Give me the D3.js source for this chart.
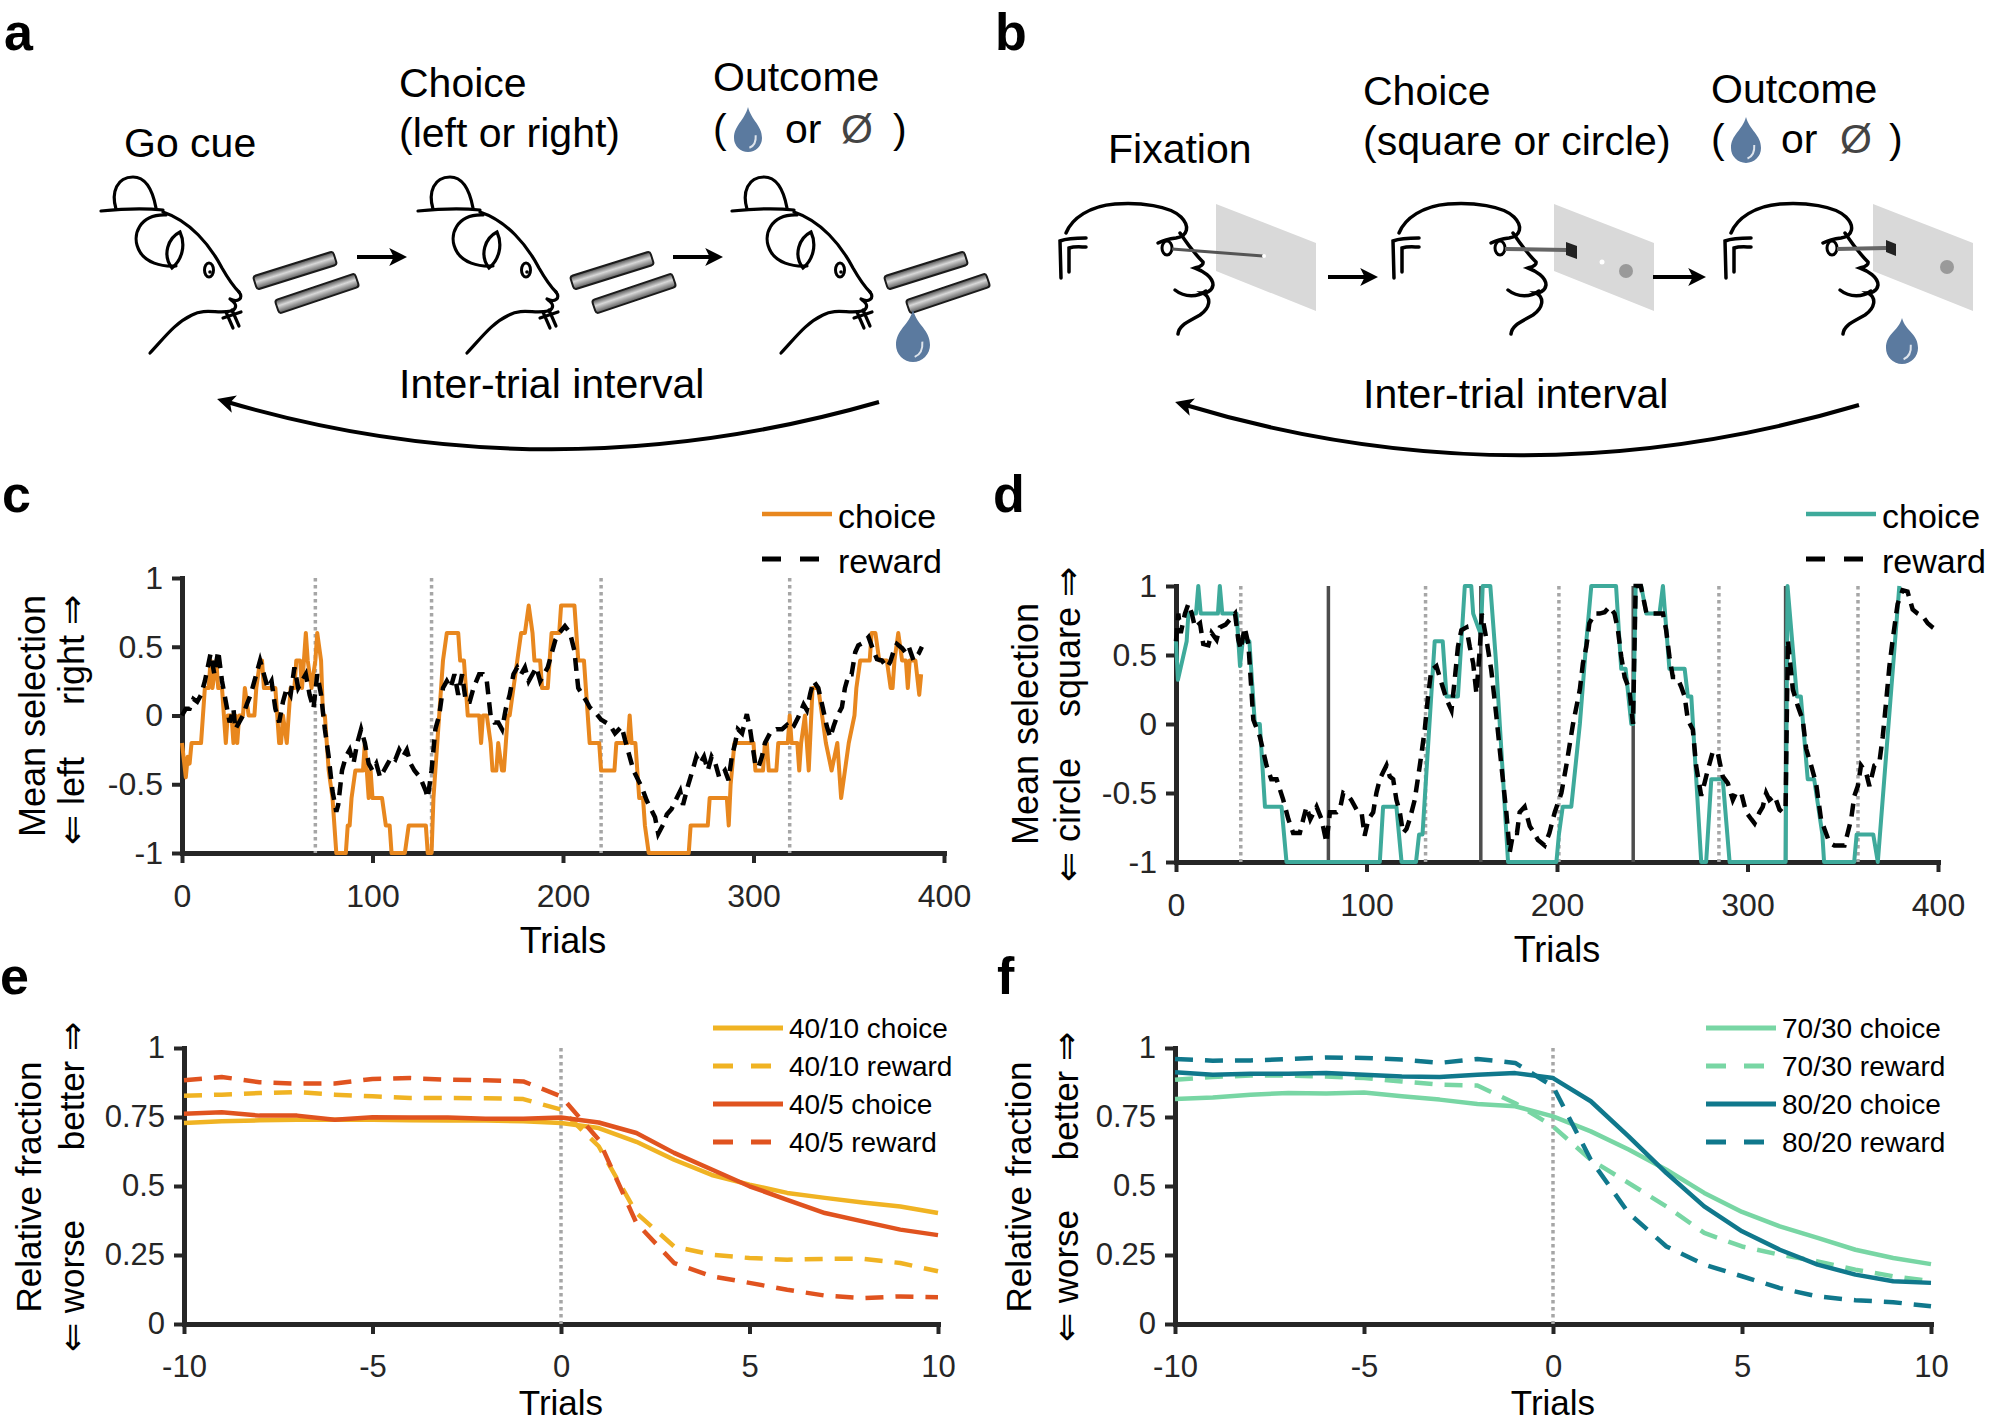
<!DOCTYPE html>
<html>
<head>
<meta charset="utf-8">
<script src="https://cdn.jsdelivr.net/npm/d3@7"></script>
<style>
body { margin: 0; background: #fff; }
text { font-family: "Liberation Sans", Arial, sans-serif; }
</style>
</head>
<body>
<script>
// ---- data ----
// panel c: running mean of choices / rewards (trial, value)
var cChoice = [[0,-0.2],[2,-0.45],[3,-0.3],[4,-0.35],[5,-0.2],[10,-0.2],[12,0.2],[14,0.2],[15,0.4],[16,0.2],[18,0.4],[19,0.2],[21,0.2],[22,0],[23,-0.2],[24,0],[26,0],[27,-0.2],[28,0],[29,-0.2],[30,0],[32,0],[33,0.2],[35,0],[38,0],[39,0.2],[41,0.4],[42,0.4],[43,0.2],[49,0.2],[50,0],[51,-0.2],[52,-0.2],[53,0],[55,-0.2],[56,0],[57,0.2],[59,0.2],[60,0.4],[62,0.4],[63,0.2],[64,0.4],[65,0.6],[66,0.4],[68,0.2],[70,0.4],[71,0.6],[73,0.4],[74,0],[75,0],[76,-0.2],[77,-0.4],[79,-0.6],[81,-1],[86,-1],[87,-0.8],[88,-0.8],[89,-0.6],[91,-0.4],[95,-0.4],[96,-0.2],[97,-0.4],[98,-0.6],[99,-0.4],[100,-0.6],[105,-0.6],[107,-0.8],[109,-0.8],[110,-1],[117,-1],[119,-0.8],[128,-0.8],[129,-1],[131,-1],[132,-0.6],[134,-0.2],[136,0.2],[137,0.4],[139,0.6],[145,0.6],[146,0.4],[148,0.4],[149,0.2],[150,0],[156,0],[157,-0.2],[158,0],[160,0],[162,-0.2],[163,-0.4],[165,-0.4],[166,-0.2],[168,-0.4],[169,-0.4],[171,0],[172,0],[174,0.2],[176,0.4],[178,0.6],[180,0.6],[182,0.8],[184,0.6],[185,0.4],[188,0.4],[189,0.2],[192,0.2],[193,0.4],[194,0.6],[198,0.6],[199,0.8],[206,0.8],[207,0.6],[208,0.4],[211,0.4],[212,0.2],[213,0],[214,-0.2],[219,-0.2],[220,-0.4],[227,-0.4],[228,-0.2],[234,-0.2],[235,0],[236,-0.2],[238,-0.2],[239,-0.4],[240,-0.6],[242,-0.6],[243,-0.8],[245,-1],[266,-1],[267,-0.8],[276,-0.8],[277,-0.6],[286,-0.6],[287,-0.8],[288,-0.5],[290,-0.2],[300,-0.2],[301,-0.4],[305,-0.4],[306,-0.2],[307,-0.2],[308,-0.4],[312,-0.4],[313,-0.2],[318,-0.2],[319,0],[320,-0.2],[323,-0.2],[324,-0.4],[325,-0.2],[327,0],[329,-0.4],[331,0.2],[334,0.2],[336,0],[338,-0.2],[341,-0.4],[344,-0.2],[346,-0.6],[348,-0.4],[350,-0.2],[353,0],[354,0.2],[356,0.4],[361,0.4],[362,0.6],[364,0.6],[366,0.4],[370,0.4],[372,0.2],[373,0.2],[374,0.4],[376,0.6],[378,0.4],[380,0.4],[381,0.2],[382,0.4],[385,0.4],[387,0.15],[388,0.3]];
var cReward = [[0,0],[2,0.05],[4,0.05],[6,0.12],[8,0.1],[10,0.15],[12,0.25],[15,0.45],[17,0.3],[19,0.47],[21,0.25],[23,0.1],[25,-0.05],[27,0.05],[28,-0.1],[30,-0.05],[32,0],[34,0.08],[36,0.15],[38,0.25],[40,0.35],[41,0.4],[43,0.3],[45,0.2],[47,0.25],[49,0.05],[51,-0.05],[53,0.1],[55,0.2],[57,0.15],[59,0.35],[61,0.2],[63,0.25],[65,0.3],[67,0.15],[69,0.05],[71,0.3],[73,0.15],[75,-0.1],[77,-0.3],[79,-0.55],[81,-0.7],[82,-0.65],[84,-0.4],[86,-0.3],[88,-0.25],[90,-0.35],[92,-0.2],[94,-0.1],[96,-0.2],[98,-0.35],[100,-0.4],[102,-0.35],[104,-0.45],[106,-0.4],[108,-0.35],[110,-0.3],[112,-0.32],[114,-0.25],[116,-0.3],[118,-0.25],[120,-0.35],[122,-0.4],[125,-0.45],[128,-0.55],[129,-0.6],[131,-0.4],[133,-0.1],[135,0],[137,0.2],[139,0.25],[141,0.2],[143,0.3],[145,0.15],[147,0.3],[149,0.1],[151,0.1],[153,0.2],[156,0.3],[158,0.3],[160,0.25],[162,0],[164,-0.05],[166,-0.05],[168,-0.1],[170,0.05],[172,0.15],[174,0.3],[176,0.35],[178,0.3],[180,0.35],[182,0.25],[184,0.3],[186,0.35],[188,0.25],[190,0.3],[192,0.35],[194,0.45],[196,0.55],[198,0.6],[201,0.65],[203.7,0.6],[206,0.47],[207,0.33],[208,0.2],[212.5,0.1],[214,0.06],[217.7,0.01],[220,-0.03],[224.7,-0.07],[227.3,-0.13],[230.8,-0.08],[232.6,-0.18],[237,-0.4],[241.3,-0.52],[244,-0.62],[248.3,-0.74],[250,-0.86],[252.7,-0.79],[254.5,-0.72],[257,-0.68],[259.7,-0.6],[261.5,-0.55],[263,-0.65],[265.8,-0.5],[268,-0.4],[270,-0.3],[272,-0.35],[274,-0.3],[276,-0.4],[278,-0.3],[280,-0.35],[282,-0.45],[285,-0.4],[286.9,-0.47],[288.6,-0.3],[290.4,-0.2],[291.8,-0.1],[294,-0.13],[296.5,0.01],[298.2,-0.1],[300.9,-0.35],[302.5,-0.38],[304.4,-0.3],[306,-0.2],[309,-0.12],[312,-0.1],[315,-0.1],[317.5,-0.07],[319,-0.1],[321,-0.08],[323.6,-0.01],[326.3,0.08],[328,0.04],[329.8,0.16],[331.5,0.25],[334,0.2],[336,0.08],[338.5,-0.08],[340.3,-0.16],[342,-0.08],[343.8,-0.01],[346.4,0.06],[348,0.2],[350,0.3],[351.5,0.3],[353.4,0.46],[355,0.51],[357.8,0.53],[360.4,0.57],[363,0.47],[364.8,0.41],[367.4,0.4],[370,0.35],[371.8,0.39],[373.6,0.47],[375.3,0.52],[378,0.49],[379.7,0.46],[381.5,0.5],[384,0.4],[386.7,0.45],[388.4,0.5]];
var cSwitch = [70, 131, 220, 319];

// panel d
var dChoice = [[0,0.6],[1,0.32],[5.6,0.6],[6.5,0.8],[10.5,0.8],[11.7,1],[13,0.8],[22,0.8],[23,1],[24.3,0.8],[31.8,0.8],[33.6,0.42],[35,0.6],[38.5,0.6],[41.4,0],[44,0],[46.7,-0.6],[55.4,-0.6],[58,-1],[107,-1],[108.7,-0.6],[115.7,-0.6],[118.4,-1],[126,-1],[127.6,-0.8],[129.4,-0.8],[135.8,0.6],[140,0.6],[142,0.2],[148,0.2],[151.6,1],[155,1],[156,0.8],[158.6,0.7],[160,0.65],[161,1],[165,1],[168,0.45],[171.7,-0.4],[174.3,-1],[199.7,-1],[201,-0.8],[203,-0.6],[207.5,-0.6],[212,0],[215.4,0.6],[218,1],[231,1],[233.7,0.4],[236,0.4],[239,0],[240,0],[241.3,1],[244.2,1],[246.9,0.8],[253.8,0.8],[255.6,1],[259,0.4],[267,0.4],[268.7,0.2],[270.5,0.2],[275.7,-1],[278.3,-1],[281,-0.4],[287,-0.4],[290.6,-1],[320,-1],[321,1],[325.9,0.2],[328,0.2],[331.6,-0.4],[335,-0.4],[339.3,-0.8],[340.2,-1],[356,-1],[357.3,-0.8],[366,-0.8],[368.4,-1],[379.7,1]];
var dReward = [[0,0.6],[1.2,0.8],[2.5,0.66],[4.7,0.8],[6.5,0.87],[8.3,0.8],[10,0.7],[12.6,0.73],[14.3,0.58],[17,0.57],[18.7,0.66],[21.3,0.61],[23,0.7],[26,0.72],[31,0.8],[32.7,0.61],[34,0.54],[36,0.7],[38,0.58],[40.6,0.03],[44,-0.09],[47.5,-0.3],[50,-0.4],[52.8,-0.4],[56.3,-0.55],[59,-0.69],[61.5,-0.79],[65,-0.79],[66.8,-0.69],[68.5,-0.6],[70.5,-0.69],[73.8,-0.6],[76.4,-0.69],[79,-0.86],[80.8,-0.64],[84.3,-0.64],[86,-0.62],[87.8,-0.5],[90.4,-0.52],[92,-0.55],[94.8,-0.62],[97.4,-0.64],[99,-0.81],[101,-0.69],[103.5,-0.64],[105.2,-0.5],[107,-0.4],[108.7,-0.35],[110.5,-0.3],[112.2,-0.38],[114,-0.4],[115.7,-0.55],[117.5,-0.64],[119.2,-0.79],[121,-0.76],[122.7,-0.69],[125.3,-0.55],[128,-0.3],[130.6,-0.04],[132.3,0.2],[134,0.39],[136.7,0.42],[139.3,0.3],[142,0.18],[144.6,0.1],[146.3,0.32],[148,0.56],[149.8,0.68],[152.4,0.7],[154.2,0.56],[156,0.44],[157.7,0.22],[159.5,0.55],[160.5,0.8],[163,0.61],[165.5,0.39],[168,0.08],[170.8,-0.3],[173.4,-0.64],[175.2,-0.93],[177,-0.79],[179,-0.79],[180.4,-0.64],[183,-0.6],[185.7,-0.74],[188,-0.79],[190,-0.84],[191.8,-0.86],[193.5,-0.88],[196,-0.79],[198.8,-0.64],[202.3,-0.5],[204.9,-0.3],[208.4,0],[212,0.25],[213.6,0.44],[215.4,0.56],[217,0.73],[219.8,0.8],[222.4,0.8],[225,0.81],[227.6,0.85],[230.2,0.8],[232,0.68],[233.7,0.49],[235.5,0.34],[238,0.25],[239.9,0],[241.3,1],[244,1],[247,0.8],[255.6,0.8],[257.3,0.68],[259,0.49],[260.8,0.34],[263,0.34],[265.2,0.27],[267,0.2],[268.7,0.03],[271.3,-0.04],[273,-0.3],[275.7,-0.52],[277.4,-0.43],[279.2,-0.33],[281.8,-0.2],[284.4,-0.21],[287,-0.38],[289.7,-0.43],[292.3,-0.55],[294,-0.5],[296.7,-0.5],[299.3,-0.64],[302,-0.69],[303.7,-0.72],[306.3,-0.64],[308,-0.6],[309.8,-0.5],[311.5,-0.55],[314.2,-0.52],[316.8,-0.62],[318.5,-0.64],[320,-0.6],[321.2,0.61],[323.8,0.25],[326.4,0.13],[329,0.03],[330.8,-0.18],[333.4,-0.3],[336,-0.43],[338.6,-0.69],[340.4,-0.76],[343,-0.86],[345.6,-0.88],[350.9,-0.88],[352.6,-0.79],[354.4,-0.69],[356.1,-0.52],[357.9,-0.45],[359.6,-0.3],[362.2,-0.35],[364,-0.45],[366.6,-0.3],[369.2,-0.28],[371,-0.09],[372.7,0.15],[374.5,0.42],[376.2,0.61],[378.8,0.87],[381.4,0.97],[384,0.96],[386.7,0.83],[389.3,0.8],[392,0.78],[394.6,0.73],[397.2,0.7],[399.3,0.68]];
var dSwitch = [34, 131, 201, 285, 358];
var dBlock = [80, 160, 240, 320];

// panels e, f: trials relative to switch
var lagTrials = [-10,-9,-8,-7,-6,-5,-4,-3,-2,-1,0,1,2,3,4,5,6,7,8,9,10];
var e4010Choice = [0.728,0.735,0.738,0.74,0.74,0.74,0.738,0.737,0.737,0.735,0.728,0.71,0.66,0.595,0.54,0.505,0.475,0.457,0.44,0.426,0.402];
var e4010Reward = [0.827,0.831,0.837,0.84,0.831,0.825,0.819,0.819,0.818,0.815,0.777,0.644,0.402,0.281,0.251,0.239,0.233,0.236,0.236,0.221,0.191];
var e405Choice  = [0.762,0.767,0.755,0.755,0.74,0.749,0.748,0.748,0.744,0.744,0.748,0.73,0.692,0.62,0.56,0.499,0.45,0.402,0.372,0.342,0.322];
var e405Reward  = [0.883,0.895,0.876,0.871,0.871,0.888,0.891,0.885,0.883,0.879,0.825,0.668,0.366,0.221,0.173,0.149,0.124,0.103,0.094,0.1,0.097];
var f7030Choice = [0.815,0.821,0.831,0.837,0.835,0.839,0.825,0.813,0.797,0.789,0.752,0.698,0.632,0.559,0.475,0.406,0.354,0.312,0.269,0.239,0.217];
var f7030Reward = [0.885,0.895,0.9,0.9,0.897,0.891,0.879,0.867,0.864,0.8,0.716,0.595,0.511,0.426,0.33,0.281,0.251,0.227,0.197,0.173,0.155];
var f8020Choice = [0.912,0.903,0.907,0.907,0.909,0.903,0.897,0.895,0.903,0.909,0.891,0.807,0.68,0.547,0.426,0.336,0.269,0.215,0.179,0.155,0.149];
var f8020Reward = [0.96,0.954,0.955,0.96,0.966,0.964,0.958,0.946,0.96,0.946,0.861,0.595,0.402,0.281,0.215,0.173,0.13,0.1,0.086,0.079,0.064];

var trialTicks = [0, 100, 200, 300, 400];
var selTicks = [-1, -0.5, 0, 0.5, 1];
var lagTicks = [-10, -5, 0, 5, 10];
var fracTicks = [0, 0.25, 0.5, 0.75, 1];

var ink = "#262626";
var svg = d3.select("body").append("svg").attr("width", 1991).attr("height", 1426);

var defs = svg.append("defs");
var grad = defs.append("linearGradient").attr("id", "tube").attr("x1", 0).attr("y1", 0).attr("x2", 0).attr("y2", 1);
grad.append("stop").attr("offset", "0%").attr("stop-color", "#4a4a4a");
grad.append("stop").attr("offset", "45%").attr("stop-color", "#d8d8d8");
grad.append("stop").attr("offset", "100%").attr("stop-color", "#5a5a5a");
defs.append("marker").attr("id", "head").attr("viewBox", "0 0 10 10").attr("refX", 6).attr("refY", 5)
  .attr("markerWidth", 4.5).attr("markerHeight", 4.5).attr("orient", "auto")
  .append("path").attr("d", "M0,0 L10,5 L0,10 L2.5,5 Z").attr("fill", "#000");

function label(x, y, str, size, opts) {
  opts = opts || {}
  var t = svg.append("text").attr("x", x).attr("y", y).text(str)
    .attr("font-size", size).attr("fill", opts.fill || "#000")
  if (opts.bold) t.attr("font-weight", "bold")
  if (opts.anchor) t.attr("text-anchor", opts.anchor)
  if (opts.rotate) t.attr("transform", "rotate(-90," + x + "," + y + ")")
  return t
}

// panel letters
label(4, 50, "a", 52, {bold: true});
label(995, 50, "b", 52, {bold: true});
label(2, 512, "c", 52, {bold: true});
label(993, 512, "d", 52, {bold: true});
label(0, 994, "e", 52, {bold: true});
label(997, 994, "f", 52, {bold: true});

// ---- panel a: mouse task ----
function drop(cx, top, w, h) {
  var r = w / 2, cy = top + h - r
  svg.append("path")
    .attr("d", "M" + cx + "," + top + " C" + (cx + r * 0.25) + "," + (top + h * 0.3) + " " + (cx + r) + "," + (cy - r * 0.9) + " " + (cx + r) + "," + cy +
      " A" + r + "," + r + " 0 1 1 " + (cx - r) + "," + cy +
      " C" + (cx - r) + "," + (cy - r * 0.9) + " " + (cx - r * 0.25) + "," + (top + h * 0.3) + " " + cx + "," + top + " Z")
    .attr("fill", "#5b7a9f")
  svg.append("path")
    .attr("d", "M" + (cx + r * 0.55) + "," + (cy - r * 0.2) + " Q" + (cx + r * 0.6) + "," + (cy + r * 0.5) + " " + (cx + r * 0.1) + "," + (cy + r * 0.7))
    .attr("fill", "none").attr("stroke", "#fff").attr("stroke-width", 2).attr("opacity", 0.8)
}

function tube(x1, y1, x2, y2) {
  var len = Math.hypot(x2 - x1, y2 - y1), ang = Math.atan2(y2 - y1, x2 - x1) * 180 / Math.PI
  svg.append("rect").attr("x", 0).attr("y", -7).attr("width", len).attr("height", 14).attr("rx", 3)
    .attr("fill", "url(#tube)").attr("stroke", "#1a1a1a").attr("stroke-width", 2)
    .attr("transform", "translate(" + x1 + "," + y1 + ") rotate(" + ang + ")")
}

var mousePaths = [
  "M101,211 C120,209 145,208 163,210",
  "M116,209 C111,192 117,177 133,177 C147,177 153,192 156,208",
  "M163,212 C190,221 210,245 222,268 C230,282 235,288 239,292",
  "M239,292 C244,298 238,303 230,299 M231,300 C237,304 237,308 232,311",
  "M226,312 L233,328 M232,310 L239,326 M223,318 L241,312",
  "M231,311 C218,314 205,308 192,315 C175,323 165,337 150,353",
  "M166,215 C140,214 130,235 140,252 C146,262 160,267 176,266",
  "M180,232 C168,238 162,255 172,268 C182,260 186,245 180,232 Z"
];
var mouseOffsets = [0, 317, 631];
mouseOffsets.forEach(function(dx) {
  var g = svg.append("g").attr("transform", "translate(" + dx + ",0)")
  mousePaths.forEach(function(p) {
    g.append("path").attr("d", p).attr("fill", "none").attr("stroke", "#000").attr("stroke-width", 3.2).attr("stroke-linecap", "round")
  })
  g.append("ellipse").attr("cx", 209).attr("cy", 270).attr("rx", 4.5).attr("ry", 7).attr("fill", "none").attr("stroke", "#000").attr("stroke-width", 3)
  g.append("circle").attr("cx", 210).attr("cy", 272).attr("r", 1.8).attr("fill", "#000")
  tube(255 + dx, 283, 335 + dx, 258)
  tube(277 + dx, 307, 357 + dx, 280)
})
drop(913, 310, 34, 52);

function straightArrow(x1, x2, y) {
  svg.append("line").attr("x1", x1).attr("x2", x2).attr("y1", y).attr("y2", y)
    .attr("stroke", "#000").attr("stroke-width", 4).attr("marker-end", "url(#head)")
}
straightArrow(357, 400, 257);
straightArrow(673, 716, 257);

label(124, 157, "Go cue", 41);
label(399, 97, "Choice", 41);
label(399, 147, "(left or right)", 41);
label(713, 91, "Outcome", 41);
label(713, 143, "(", 41);
drop(748, 107, 28, 45);
label(785, 143, "or", 41);
label(841, 143, "Ø", 41, {fill: "#444"});
label(893, 143, ")", 41);
label(399, 398, "Inter-trial interval", 41);
svg.append("path").attr("d", "M879,402 Q548,497 224,401").attr("fill", "none")
  .attr("stroke", "#000").attr("stroke-width", 4).attr("marker-end", "url(#head)");

// ---- panel b: monkey task ----
var screenPts = [[1216,204],[1316,243],[1316,311],[1216,271]];
var screenOffsets = [0, 338, 657];
screenOffsets.forEach(function(dx) {
  svg.append("polygon").attr("points", screenPts.map(function(p) { return (p[0] + dx) + "," + p[1] }).join(" "))
    .attr("fill", "#d9d9d9")
})
var monkeyPaths = [
  "M1066,233 C1072,218 1090,206 1115,204 C1140,202 1170,206 1181,217 C1190,226 1188,236 1176,238 C1168,239 1162,241 1158,243",
  "M1180,233 C1186,242 1193,252 1203,262 C1204,266 1198,267 1195,268 C1203,271 1213,277 1213,285 C1212,292 1205,293 1203,293 C1212,298 1210,308 1200,315 C1188,322 1179,325 1178,334",
  "M1175,290 C1185,298 1198,297 1206,291",
  "M1061,278 L1060,241 C1068,238 1078,238 1086,238",
  "M1069,272 L1069,248 C1075,246 1081,247 1086,247"
];
var monkeyOffsets = [0, 333, 665];
monkeyOffsets.forEach(function(dx) {
  var g = svg.append("g").attr("transform", "translate(" + dx + ",0)")
  monkeyPaths.forEach(function(p) {
    g.append("path").attr("d", p).attr("fill", "none").attr("stroke", "#000").attr("stroke-width", 3.5).attr("stroke-linecap", "round")
  })
  g.append("ellipse").attr("cx", 1167).attr("cy", 248).attr("rx", 5).attr("ry", 7).attr("fill", "none").attr("stroke", "#000").attr("stroke-width", 3)
})
// gaze lines, targets
svg.append("line").attr("x1", 1172).attr("y1", 249).attr("x2", 1263).attr("y2", 256).attr("stroke", "#555").attr("stroke-width", 3);
svg.append("circle").attr("cx", 1264).attr("cy", 256).attr("r", 2).attr("fill", "#fff");
svg.append("line").attr("x1", 1505).attr("y1", 249).attr("x2", 1567).attr("y2", 250).attr("stroke", "#666").attr("stroke-width", 4);
svg.append("polygon").attr("points", "1566,242 1577,246 1577,259 1566,255").attr("fill", "#222");
svg.append("circle").attr("cx", 1602).attr("cy", 262).attr("r", 2.5).attr("fill", "#fff");
svg.append("circle").attr("cx", 1626).attr("cy", 271).attr("r", 7).attr("fill", "#9a9a9a");
svg.append("line").attr("x1", 1837).attr("y1", 249).attr("x2", 1886).attr("y2", 248).attr("stroke", "#666").attr("stroke-width", 4);
svg.append("polygon").attr("points", "1886,240 1896,244 1896,256 1886,252").attr("fill", "#222");
svg.append("circle").attr("cx", 1947).attr("cy", 267).attr("r", 7).attr("fill", "#9a9a9a");
drop(1902, 318, 32, 46);
straightArrow(1328, 1371, 277);
straightArrow(1653, 1699, 277);

label(1108, 163, "Fixation", 41);
label(1363, 105, "Choice", 41);
label(1363, 155, "(square or circle)", 41);
label(1711, 103, "Outcome", 41);
label(1711, 153, "(", 41);
drop(1746, 117, 30, 46);
label(1781, 153, "or", 41);
label(1840, 153, "Ø", 41, {fill: "#444"});
label(1889, 153, ")", 41);
label(1363, 408, "Inter-trial interval", 41);
svg.append("path").attr("d", "M1859,405 Q1518,506 1182,404").attr("fill", "none")
  .attr("stroke", "#000").attr("stroke-width", 4).attr("marker-end", "url(#head)");

// ---- axes helper ----
function styleAxis(g, size) {
  g.attr("font-family", '"Liberation Sans", Arial, sans-serif').attr("font-size", size)
  g.select(".domain").attr("stroke", ink).attr("stroke-width", 5).attr("stroke-linecap", "square")
  g.selectAll(".tick line").attr("stroke", ink).attr("stroke-width", 4)
  g.selectAll(".tick text").attr("fill", ink)
}
function drawAxes(x, y, xt, yt, size) {
  var gy = svg.append("g").attr("transform", "translate(" + x.range()[0] + ",0)")
    .call(d3.axisLeft(y).tickValues(yt).tickSize(10).tickSizeOuter(0).tickPadding(9).tickFormat(String))
  styleAxis(gy, size)
  var gx = svg.append("g").attr("transform", "translate(0," + y.range()[0] + ")")
    .call(d3.axisBottom(x).tickValues(xt).tickSize(10).tickSizeOuter(0).tickPadding(21).tickFormat(String))
  styleAxis(gx, size)
}

// ---- panels c, d ----
function selectionPanel(o) {
  var x = d3.scaleLinear().domain([0, 400]).range(o.xr)
  var y = d3.scaleLinear().domain([-1, 1]).range(o.yr)
  drawAxes(x, y, trialTicks, selTicks, 32)
  o.dotted.forEach(function(t) {
    svg.append("line").attr("x1", x(t)).attr("x2", x(t)).attr("y1", y(1)).attr("y2", y(-1))
      .attr("stroke", "#a6a6a6").attr("stroke-width", 3.5).attr("stroke-dasharray", "3.5,3.5")
  })
  ;(o.solid || []).forEach(function(t) {
    svg.append("line").attr("x1", x(t)).attr("x2", x(t)).attr("y1", y(1)).attr("y2", y(-1))
      .attr("stroke", "#4d4d4d").attr("stroke-width", 3.5)
  })
  var line = d3.line().x(function(d) { return x(d[0]) }).y(function(d) { return y(d[1]) })
  svg.append("path").datum(o.choice).attr("d", line).attr("fill", "none")
    .attr("stroke", o.color).attr("stroke-width", 4).attr("stroke-linejoin", "round")
  svg.append("path").datum(o.reward).attr("d", line).attr("fill", "none")
    .attr("stroke", "#000").attr("stroke-width", 4.5).attr("stroke-dasharray", "13,8")
  // legend
  var lx = o.legend[0], ly = o.legend[1]
  svg.append("line").attr("x1", lx).attr("x2", lx + 70).attr("y1", ly).attr("y2", ly).attr("stroke", o.color).attr("stroke-width", 4.5)
  svg.append("line").attr("x1", lx).attr("x2", lx + 58).attr("y1", ly + 45).attr("y2", ly + 45).attr("stroke", "#000").attr("stroke-width", 5).attr("stroke-dasharray", "19,19")
  label(lx + 76, ly + 14, "choice", 34)
  label(lx + 76, ly + 59, "reward", 34)
  label((o.xr[0] + o.xr[1]) / 2, o.yr[0] + 100, "Trials", 36, {anchor: "middle"})
  // y label
  label(o.lab[0], o.lab[1], "Mean selection", 36, {anchor: "middle", rotate: true})
  label(o.lab[2], o.lab[3], "⇐ " + o.words[0], 36, {anchor: "start", rotate: true})
  label(o.lab[2], o.lab[4], o.words[1] + " ⇒", 36, {anchor: "end", rotate: true})
}

selectionPanel({xr: [182, 944], yr: [853, 578], choice: cChoice, reward: cReward, color: "#e8871e",
  dotted: cSwitch, legend: [762, 514], lab: [45, 716, 84, 845, 595], words: ["left", "right"]});
selectionPanel({xr: [1176, 1938], yr: [862, 586], choice: dChoice, reward: dReward, color: "#3eaa9b",
  dotted: dSwitch, solid: dBlock, legend: [1806, 514], lab: [1038, 724, 1080, 882, 567], words: ["circle", "square"]});

// ---- panels e, f ----
function fractionPanel(o) {
  var x = d3.scaleLinear().domain([-10, 10]).range(o.xr)
  var y = d3.scaleLinear().domain([0, 1]).range(o.yr)
  drawAxes(x, y, lagTicks, fracTicks, 31)
  svg.append("line").attr("x1", x(0)).attr("x2", x(0)).attr("y1", y(1)).attr("y2", y(0))
    .attr("stroke", "#a6a6a6").attr("stroke-width", 3.5).attr("stroke-dasharray", "3.5,3.5")
  var line = d3.line().x(function(d, i) { return x(lagTrials[i]) }).y(function(d) { return y(d) })
  o.series.forEach(function(s, i) {
    var p = svg.append("path").datum(s.values).attr("d", line).attr("fill", "none")
      .attr("stroke", s.color).attr("stroke-width", 4.5).attr("stroke-linejoin", "round")
    if (s.dashed) p.attr("stroke-dasharray", "18,12")
    var ly = 1028 + i * 38
    var l = svg.append("line").attr("x1", o.legendX).attr("x2", o.legendX + 70).attr("y1", ly).attr("y2", ly)
      .attr("stroke", s.color).attr("stroke-width", 5)
    if (s.dashed) l.attr("stroke-dasharray", "20,18")
    label(o.legendX + 76, ly + 10, s.name, 28)
  })
  label((o.xr[0] + o.xr[1]) / 2, 1415, "Trials", 35, {anchor: "middle"})
  label(o.lab[0], 1187, "Relative fraction", 35, {anchor: "middle", rotate: true})
  label(o.lab[1], o.lab[2], "⇐ worse", 35, {anchor: "start", rotate: true})
  label(o.lab[1], o.lab[3], "better ⇒", 35, {anchor: "end", rotate: true})
}

fractionPanel({xr: [184, 938], yr: [1324, 1048], legendX: 713, lab: [41, 84, 1352, 1022], series: [
  {name: "40/10 choice", values: e4010Choice, color: "#f0b323", dashed: false},
  {name: "40/10 reward", values: e4010Reward, color: "#f0b323", dashed: true},
  {name: "40/5 choice", values: e405Choice, color: "#e0531f", dashed: false},
  {name: "40/5 reward", values: e405Reward, color: "#e0531f", dashed: true}
]});
fractionPanel({xr: [1175, 1931], yr: [1324, 1048], legendX: 1706, lab: [1031, 1078, 1342, 1032], series: [
  {name: "70/30 choice", values: f7030Choice, color: "#78d6a4", dashed: false},
  {name: "70/30 reward", values: f7030Reward, color: "#78d6a4", dashed: true},
  {name: "80/20 choice", values: f8020Choice, color: "#10788c", dashed: false},
  {name: "80/20 reward", values: f8020Reward, color: "#10788c", dashed: true}
]});
</script>
</body>
</html>
